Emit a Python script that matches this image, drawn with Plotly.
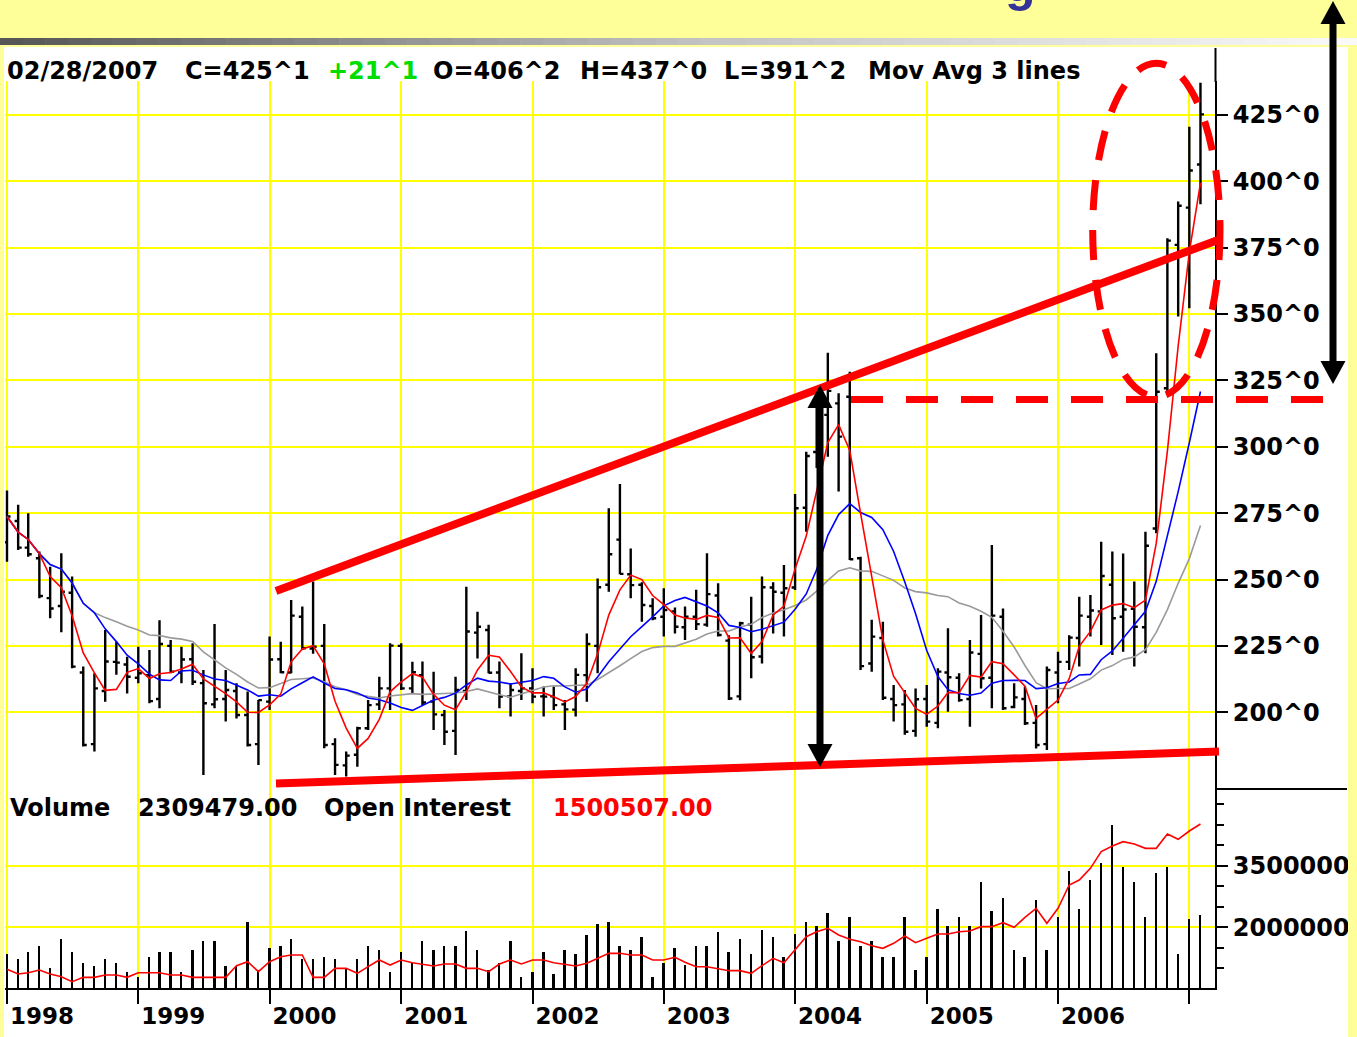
import pandas as pd
import plotly.graph_objects as go

W, H = 1357, 1037

# ---------------- data (monthly corn futures, Jan 1998 - Feb 2007) ----------------
dates = pd.date_range("1998-01-01", periods=110, freq="MS")

opens = [264, 272, 262, 258, 243, 240, 245, 215, 188, 208, 219, 218,
         213, 214, 205, 225, 215, 220, 211, 203, 205, 208, 199, 188,
         204, 220, 215, 236, 224, 225, 188, 180, 184, 194, 203, 209,
         225, 209, 214, 204, 199, 193, 208, 230, 231, 215, 206, 208,
         209, 206, 206, 203, 201, 214, 225, 248, 265, 252, 248, 240,
         236, 238, 232, 236, 233, 244, 227, 206, 233, 221, 247, 245,
         247, 277, 298, 312, 316.3, 318.8, 258, 218.4, 228, 205, 203, 193,
         205, 196, 215, 213, 205, 222, 213, 236, 202, 205, 196, 188,
         215, 219, 228, 236, 238, 248, 236, 239, 232, 269.2, 322, 376,
         390, 406.25]
highs = [283.5, 278.1, 274.9, 260.5, 254.8, 259.9, 251.1, 217.2, 214.7, 231.0, 226.6, 220.9,
         224.7, 223.5, 234.7, 227.2, 224.7, 226.0, 215.9, 233.2, 215.9, 210.9, 207.8, 204.6,
         228.5, 226.6, 242.3, 239.8, 249.2, 233.2, 190.2, 185.2, 194.6, 204.6, 213.4, 226.0,
         226.0, 219.0, 219.1, 215.3, 200.9, 213.4, 247.3, 237.9, 233.0, 219.1, 210.9, 222.2,
         216.6, 209.7, 209.7, 204.6, 216.6, 229.7, 250.4, 276.8, 286.0, 261.7, 249.0, 242.9,
         246.7, 239.5, 239.8, 246.1, 259.9, 248.6, 229.0, 234.1, 243.5, 251.1, 249.0, 255.5,
         282.2, 298.1, 320.0, 335.4, 320.1, 328.2, 258.6, 234.8, 234.1, 210.3, 208.4, 209.0,
         210.3, 216.6, 231.6, 214.7, 227.2, 236.6, 263.0, 239.1, 210.9, 209.7, 202.7, 217.2,
         222.8, 229.0, 243.5, 244.2, 264.2, 260.5, 259.8, 249.2, 268.0, 335.2, 378.5, 392.3,
         420.5, 437.0]
lows = [256.7, 261.1, 258.6, 242.9, 235.4, 230.1, 216.6, 187.1, 185.2, 204.0, 214.1, 207.1,
        210.9, 203.4, 201.5, 214.7, 210.9, 210.3, 176.4, 201.5, 196.5, 197.7, 187.1, 180.2,
        200.9, 214.7, 214.7, 223.5, 222.0, 186.5, 176.4, 175.8, 179.5, 193.3, 200.9, 200.9,
        208.4, 207.0, 202.7, 193.3, 187.7, 183.9, 204.6, 220.3, 214.7, 201.5, 198.4, 204.6,
        203.4, 198.4, 200.9, 193.3, 198.4, 204.0, 214.7, 245.4, 252.0, 242.9, 234.1, 234.7,
        228.5, 229.7, 227.2, 231.0, 232.2, 228.5, 204.6, 204.5, 212.8, 218.4, 229.7, 228.5,
        246.0, 268.0, 292.0, 296.2, 283.1, 257.3, 215.9, 215.3, 204.6, 196.5, 191.5, 190.8,
        194.6, 194.0, 200.2, 204.0, 194.6, 209.0, 201.5, 200.9, 201.5, 195.2, 186.4, 185.8,
        203.4, 215.9, 217.2, 228.5, 225.3, 221.6, 222.8, 217.2, 222.2, 267.4, 321.0, 349.0,
        352.1, 391.25]
closes = [273.7, 262.0, 259.5, 243.8, 239.1, 245.4, 217.2, 187.7, 209.0, 219.1, 218.7, 213.4,
          214.7, 204.2, 225.7, 215.3, 219.9, 211.5, 203.4, 204.9, 208.4, 199.0, 187.7, 204.6,
          219.9, 215.1, 236.4, 224.1, 224.7, 187.7, 180.2, 183.7, 194.0, 202.7, 209.0, 225.1,
          209.0, 215.1, 203.7, 199.2, 192.7, 208.4, 230.4, 232.2, 214.9, 205.9, 208.4, 209.0,
          205.9, 205.9, 202.7, 201.1, 214.1, 225.7, 247.1, 259.5, 252.1, 247.9, 240.4, 235.4,
          238.5, 232.2, 236.0, 233.2, 244.5, 229.1, 205.2, 233.5, 220.7, 247.1, 245.4, 246.7,
          276.8, 296.5, 312.0, 321.0, 303.8, 257.6, 217.4, 228.5, 205.5, 202.7, 192.7, 204.9,
          196.5, 215.3, 213.2, 204.6, 222.5, 212.8, 236.4, 201.5, 205.6, 195.9, 187.7, 215.9,
          219.0, 228.1, 236.4, 238.3, 251.3, 235.4, 238.7, 232.2, 262.7, 320.7, 377.6, 390.7,
          404.0, 425.125]
volume = [1342000, 1228000, 1391000, 1553000, 1017000, 1707000, 1391000, 1123000, 1066000, 1228000, 1123000, 904000,
          798000, 1285000, 1391000, 1391000, 904000, 1447000, 1658000, 1658000, 1066000, 1066000, 2137000, 960000,
          1504000, 1553000, 1707000, 1228000, 1228000, 1285000, 1228000, 1017000, 1228000, 1553000, 1447000, 904000,
          1391000, 1123000, 1658000, 1447000, 1553000, 1553000, 1918000, 1447000, 960000, 1123000, 1658000, 798000,
          904000, 1391000, 855000, 1447000, 1342000, 1813000, 2081000, 2137000, 1553000, 1447000, 1772000, 798000,
          1123000, 1504000, 1082000, 1553000, 1553000, 1877000, 1390000, 1715000, 1342000, 1934000, 1772000, 1285000,
          1829000, 2137000, 2032000, 2340000, 1658000, 2243000, 1553000, 1658000, 1285000, 1285000, 2243000, 960000,
          1285000, 2454000, 2032000, 2243000, 2032000, 3095000, 2405000, 2722000, 1447000, 1285000, 2665000, 1447000,
          2243000, 3363000, 2454000, 3152000, 3574000, 4483000, 3476000, 3095000, 2243000, 3314000, 3476000, 1342000,
          2194000, 2309479]
open_interest = [393600, 358100, 368200, 388600, 358100, 337800, 299700, 332700, 332700, 350500, 350500, 332700,
                 368200, 368200, 368200, 350500, 350500, 332700, 332700, 332700, 332700, 421600, 452000, 375900,
                 452000, 490100, 502800, 502800, 332700, 332700, 401300, 401300, 363200, 413900, 464700, 426600,
                 464700, 444400, 434300, 419000, 434300, 434300, 401300, 401300, 375900, 434300, 464700, 434300,
                 464700, 464700, 444400, 434300, 419000, 439400, 477400, 515500, 515500, 502800, 502800, 464700,
                 464700, 485000, 447000, 413900, 413900, 401300, 383500, 383500, 363200, 421600, 477400, 444400,
                 540900, 642400, 680500, 705900, 655100, 622100, 604300, 573900, 553600, 591700, 647500, 596700,
                 629700, 662700, 662700, 680500, 685600, 718600, 718600, 749000, 713500, 789700, 858200, 744000,
                 858200, 1035900, 1074000, 1162900, 1289800, 1332900, 1365900, 1348200, 1315200, 1315200, 1424300, 1383700,
                 1447200, 1500507]

year_ticks = pd.date_range("1998-01-01", "2007-01-01", freq="YS")
year_labels = ["1998", "1999", "2000", "2001", "2002", "2003", "2004", "2005", "2006", ""]
price_ticks = [200, 225, 250, 275, 300, 325, 350, 375, 400, 425]
price_labels = ["200^0", "225^0", "250^0", "275^0", "300^0", "325^0", "350^0", "375^0", "400^0", "425^0"]
vol_ticks = [2000000, 3500000]
vol_labels = ["2000000", "3500000"]

header_parts = [("02/28/2007", 5, "black"), ("C=425^1", 183, "black"), ("+21^1", 326, "#00DD00"),
                ("O=406^2", 431, "black"), ("H=437^0", 578, "black"), ("L=391^2", 722, "black"),
                ("Mov Avg 3 lines", 866, "black")]
volume_parts = [("Volume", 8, "black"), ("2309479.00", 136, "black"),
                ("Open Interest", 322, "black"), ("1500507.00", 551, "#FF0000")]

# moving averages of the closes (4, 9 and 18 months)
ma_fast = pd.Series(closes).rolling(4, min_periods=1).mean()
ma_mid = pd.Series(closes).rolling(9, min_periods=1).mean()
ma_slow = pd.Series(closes).rolling(18, min_periods=1).mean()

# ---------------- page geometry (pixels) ----------------
def fx(px):
    return px / W


def fy(py):
    return 1 - py / H


X_LEFT, X_RIGHT = 5, 1215
Y_TOP, Y_SPLIT, Y_BOTTOM = 81, 789, 988
x_range = ["1997-12-26 10:30", "2007-03-13 09:30"]
price_range = [171.12, 437.69]
vol_range = [522000, 5368000]
oi_range = [251500, 1767000]

FONT = "DejaVu Sans"
YELLOW_GRID = "#FFFF00"

fig = go.Figure()
fig.add_trace(go.Ohlc(x=dates, open=opens, high=highs, low=lows, close=closes,
                      xaxis="x", yaxis="y", tickwidth=0.35, line=dict(width=2.4),
                      increasing=dict(line=dict(color="black", width=2.4)),
                      decreasing=dict(line=dict(color="black", width=2.4)),
                      hoverinfo="skip"))
fig.add_trace(go.Scatter(x=dates, y=ma_slow, mode="lines", xaxis="x", yaxis="y",
                         line=dict(color="#9A9A9A", width=1.6)))
fig.add_trace(go.Scatter(x=dates, y=ma_mid, mode="lines", xaxis="x", yaxis="y",
                         line=dict(color="#0000FF", width=1.6)))
fig.add_trace(go.Scatter(x=dates, y=ma_fast, mode="lines", xaxis="x", yaxis="y",
                         line=dict(color="#FF0000", width=1.6)))
fig.add_trace(go.Bar(x=dates, y=volume, xaxis="x2", yaxis="y2", width=5.5 * 86400000,
                     marker=dict(color="black", line=dict(width=0))))
fig.add_trace(go.Scatter(x=dates, y=open_interest, mode="lines", xaxis="x2", yaxis="y3",
                         line=dict(color="#FF0000", width=1.6)))

shapes = []
# white chart sheet
shapes.append(dict(type="rect", xref="paper", yref="paper", x0=fx(4), x1=fx(1348), y0=fy(1037), y1=fy(47),
                   fillcolor="white", line=dict(width=0), layer="below"))
# grey gradient rule under the title band
N = 60
for i in range(N):
    x0 = W * i / N
    x1 = W * (i + 1) / N + 0.6
    t = (x0 + x1) / 2
    if t < 700:
        v = 85 + 110 * t / 700
    else:
        v = 195 + 55 * (t - 700) / 657
    v = int(min(252, v))
    shapes.append(dict(type="rect", xref="paper", yref="paper", x0=fx(x0), x1=fx(x1), y0=fy(45), y1=fy(38),
                       fillcolor=f"rgb({v},{v},{v})", line=dict(width=0), layer="below"))
# right axis extension above grid, separator right of panels
shapes.append(dict(type="line", xref="paper", yref="paper", x0=fx(1215.5), x1=fx(1215.5), y0=fy(48), y1=fy(82),
                   line=dict(color="black", width=2)))
shapes.append(dict(type="line", xref="paper", yref="paper", x0=fx(1215), x1=fx(1347), y0=fy(789), y1=fy(789),
                   line=dict(color="black", width=2)))
# yellow right strip (cuts the volume labels)
shapes.append(dict(type="rect", xref="paper", yref="paper", x0=fx(1348), x1=fx(1357), y0=fy(1037), y1=fy(45),
                   fillcolor="#FFFF99", line=dict(width=0), layer="above"))

RED = "#FF0000"
# trend channel
shapes.append(dict(type="line", xref="paper", yref="paper", x0=fx(276), y0=fy(591), x1=fx(1218), y1=fy(240),
                   line=dict(color=RED, width=8)))
shapes.append(dict(type="line", xref="paper", yref="paper", x0=fx(276), y0=fy(783.5), x1=fx(1219), y1=fy(751.5),
                   line=dict(color=RED, width=8)))
# dashed breakout level
shapes.append(dict(type="line", xref="paper", yref="paper", x0=fx(851), y0=fy(399.5), x1=fx(1334), y1=fy(399.5),
                   line=dict(color=RED, width=7, dash="32px,23px")))
# dashed ellipse
shapes.append(dict(type="circle", xref="paper", yref="paper", x0=fx(1092.7), x1=fx(1220), y0=fy(396.7), y1=fy(63.3),
                   line=dict(color=RED, width=7, dash="30px,20px")))


def tri(xc, ytip, ybase, half):
    return (f"M {fx(xc)} {fy(ytip)} L {fx(xc - half)} {fy(ybase)} "
            f"L {fx(xc + half)} {fy(ybase)} Z")


# black double arrows
for xc, ytop, ybot in [(820, 385, 767), (1333, 1, 384)]:
    shapes.append(dict(type="rect", xref="paper", yref="paper", x0=fx(xc - 3.5), x1=fx(xc + 3.5),
                       y0=fy(ybot - 20), y1=fy(ytop + 20), fillcolor="black", line=dict(width=0)))
    shapes.append(dict(type="path", xref="paper", yref="paper", path=tri(xc, ytop, ytop + 23, 12.5),
                       fillcolor="black", line=dict(width=0)))
    shapes.append(dict(type="path", xref="paper", yref="paper", path=tri(xc, ybot, ybot - 23, 12.5),
                       fillcolor="black", line=dict(width=0)))

annotations = []
for txt, px, col in header_parts:
    annotations.append(dict(text=txt, x=fx(px), y=fy(71), xref="paper", yref="paper", xanchor="left",
                            yanchor="middle", showarrow=False,
                            font=dict(family=FONT, size=24, color=col, weight="bold")))
for txt, px, col in volume_parts:
    annotations.append(dict(text=txt, x=fx(px), y=fy(808), xref="paper", yref="paper", xanchor="left",
                            yanchor="middle", showarrow=False,
                            font=dict(family=FONT, size=24, color=col, weight="bold")))
# cut-off title (only the descender is visible, as in the reference)
annotations.append(dict(text="g", x=fx(1020), y=fy(14), xref="paper", yref="paper", xanchor="center",
                        yanchor="bottom", showarrow=False,
                        font=dict(family="Liberation Sans", size=50, color="#333399", weight="bold")))

tickfont = dict(family=FONT, size=24, color="black", weight="bold")
fig.update_layout(
    width=W, height=H, margin=dict(l=0, r=0, t=0, b=0),
    paper_bgcolor="#FFFF99", plot_bgcolor="white", showlegend=False,
    shapes=shapes, annotations=annotations, bargap=0,
    xaxis=dict(domain=[fx(X_LEFT), fx(X_RIGHT)], range=x_range, type="date", tickvals=year_ticks,
               showticklabels=False, ticks="", showgrid=True, gridcolor=YELLOW_GRID, gridwidth=2,
               zeroline=False, showline=False, anchor="y", rangeslider=dict(visible=False)),
    xaxis2=dict(domain=[fx(X_LEFT), fx(X_RIGHT)], range=x_range, type="date", tickvals=year_ticks,
                ticktext=year_labels, ticks="outside", ticklen=14, tickwidth=2, tickcolor="black",
                showline=True, linecolor="black", linewidth=2, showgrid=True, gridcolor=YELLOW_GRID,
                gridwidth=2, zeroline=False, anchor="y2", ticklabelshift=35, ticklabelstandoff=-8,
                tickfont=dict(family=FONT, size=23, color="black", weight="bold"),
                rangeslider=dict(visible=False)),
    yaxis=dict(domain=[fy(Y_SPLIT), fy(Y_TOP)], range=price_range, side="right", anchor="x",
               tickvals=price_ticks, ticktext=price_labels, ticks="outside", ticklen=11, tickwidth=2,
               tickcolor="black", showline=True, linecolor="black", linewidth=2, showgrid=True,
               gridcolor=YELLOW_GRID, gridwidth=2, zeroline=False, tickfont=tickfont),
    yaxis2=dict(domain=[fy(Y_BOTTOM), fy(Y_SPLIT)], range=vol_range, side="right", anchor="x2",
                tickvals=vol_ticks, ticktext=vol_labels, ticks="outside", ticklen=11, tickwidth=2,
                tickcolor="black", showline=True, linecolor="black", linewidth=2, showgrid=True,
                gridcolor=YELLOW_GRID, gridwidth=2, zeroline=False, tickfont=tickfont,
                minor=dict(tickmode="linear", tick0=0, dtick=500000, ticks="outside", ticklen=7,
                           tickwidth=1.5, tickcolor="black", showgrid=False)),
    yaxis3=dict(overlaying="y2", range=oi_range, anchor="x2", visible=False),
)

fig.write_html("out.html", config={"displayModeBar": False},
               post_script="document.body.style.margin='0';document.body.style.overflow='hidden';")
